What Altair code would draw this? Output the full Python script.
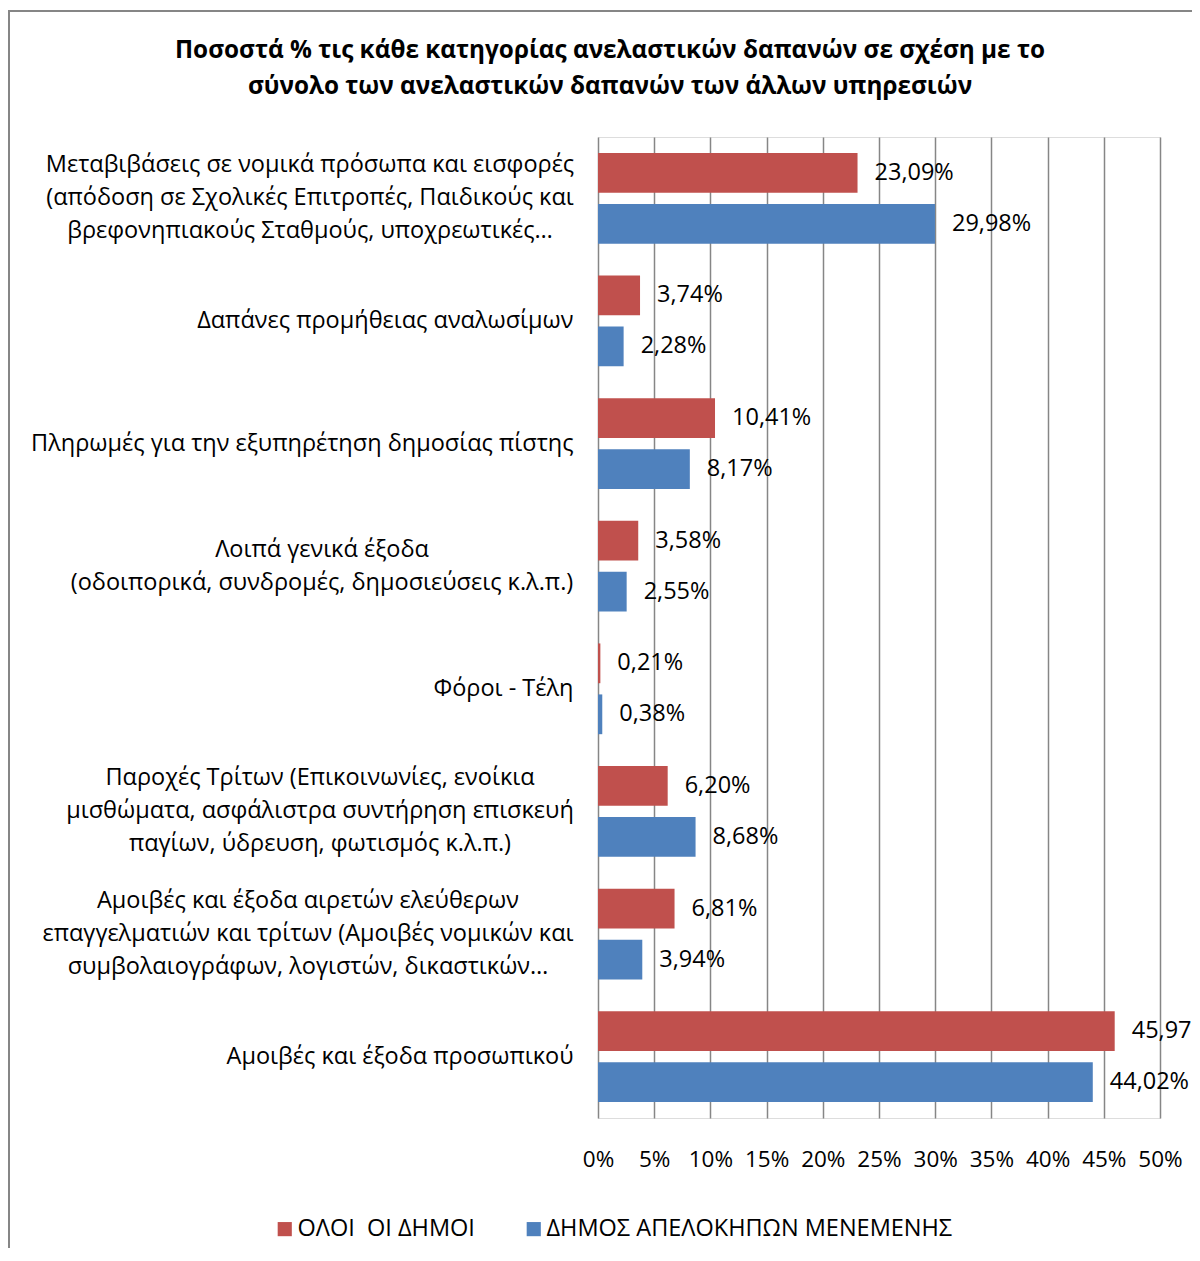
import altair as alt
import pandas as pd

categories = [
    "Μεταβιβάσεις σε νομικά πρόσωπα και εισφορές\n(απόδοση σε Σχολικές Επιτροπές, Παιδικούς και\nβρεφονηπιακούς Σταθμούς, υποχρεωτικές…",
    "Δαπάνες προμήθειας αναλωσίμων",
    "Πληρωμές για την εξυπηρέτηση δημοσίας πίστης",
    "Λοιπά γενικά έξοδα\n(οδοιπορικά, συνδρομές, δημοσιεύσεις κ.λ.π.)",
    "Φόροι - Τέλη",
    "Παροχές Τρίτων (Επικοινωνίες, ενοίκια\nμισθώματα, ασφάλιστρα συντήρηση επισκευή\nπαγίων, ύδρευση, φωτισμός κ.λ.π.)",
    "Αμοιβές και έξοδα αιρετών ελεύθερων\nεπαγγελματιών και τρίτων (Αμοιβές νομικών και\nσυμβολαιογράφων, λογιστών, δικαστικών…",
    "Αμοιβές και έξοδα προσωπικού",
]
series = ["ΟΛΟΙ \u00a0ΟΙ ΔΗΜΟΙ", "ΔΗΜΟΣ ΑΠΕΛΟΚΗΠΩΝ ΜΕΝΕΜΕΝΗΣ"]
all_munis = [23.09, 3.74, 10.41, 3.58, 0.21, 6.20, 6.81, 45.97]
menemeni = [29.98, 2.28, 8.17, 2.55, 0.38, 8.68, 3.94, 44.02]
x_ticks = [0, 5, 10, 15, 20, 25, 30, 35, 40, 45, 50]
colors = ["#C0504D", "#4F81BD"]

# layout only: rendered width (px) of each multi-line label block, so that its
# lines can be centred on one another while the block stays right-aligned
block_width = {0: 527, 3: 503, 5: 507, 6: 531}

rows = []
for c, a, m in zip(categories, all_munis, menemeni):
    rows.append({"cat": c, "series": series[0], "val": a})
    rows.append({"cat": c, "series": series[1], "val": m})
df = pd.DataFrame(rows)
df["lbl"] = df["val"].map(lambda v: f"{v:.2f}".replace(".", ",") + "%")

FONT = "Open Sans"
FS = 23.5
LH = 33
PAD = 25

pad_conditions = [
    {"test": f"indexof(datum.value, '{categories[i].split(chr(10))[0]}') == 0",
     "value": PAD + w / 2}
    for i, w in block_width.items()
]

y_enc = alt.Y(
    "cat:N",
    sort=categories,
    scale=alt.Scale(paddingInner=0.26, paddingOuter=0.13),
    axis=alt.Axis(
        title=None,
        labelExpr="split(datum.label, '\\n')",
        labelAlign={
            "condition": {"test": "indexof(datum.value, '\\n') >= 0", "value": "center"},
            "value": "right",
        },
        labelBaseline="middle",
        labelPadding={"condition": pad_conditions, "value": PAD},
        labelLimit=0,
        labelLineHeight=LH,
        labelOffset={
            "condition": [
                {"test": "length(split(datum.value, '\\n')) == 3", "value": -LH},
                {"test": "length(split(datum.value, '\\n')) == 2", "value": -LH / 2},
            ],
            "value": 0,
        },
        labelFontSize=FS,
        labelFont=FONT,
        labelColor="#000000",
        ticks=False,
        domain=False,
        grid=False,
    ),
)
yoff_enc = alt.YOffset("series:N", sort=series, scale=alt.Scale(paddingInner=0.22, paddingOuter=0))
x_enc = alt.X(
    "val:Q",
    scale=alt.Scale(domain=[0, 50], nice=False),
    axis=alt.Axis(
        title=None,
        values=x_ticks,
        labelExpr="datum.value + '%'",
        labelOverlap=False,
        labelFlush=False,
        labelPadding=30,
        labelFontSize=22.5,
        labelFont=FONT,
        labelColor="#000000",
        ticks=False,
        domain=False,
        grid=True,
        gridColor="#868686",
        gridWidth=1.5,
    ),
)

bars = alt.Chart(df).mark_bar().encode(
    y=y_enc,
    yOffset=yoff_enc,
    x=x_enc,
    color=alt.Color(
        "series:N",
        sort=series,
        scale=alt.Scale(domain=series, range=colors),
        legend=alt.Legend(
            title=None,
            orient="none",
            legendX=-325,
            legendY=1080,
            direction="horizontal",
            symbolType="square",
            symbolSize=200,
            symbolStrokeWidth=0,
            labelFontSize=FS,
            labelFont=FONT,
            labelColor="#000000",
            labelOffset=1,
            columnPadding=47,
            labelLimit=0,
        ),
    ),
)

labels = alt.Chart(df).mark_text(
    align="left", baseline="middle", dx=17, fontSize=FS, font=FONT, color="#000000"
).encode(
    y=alt.Y("cat:N", sort=categories),
    yOffset=alt.YOffset("series:N", sort=series),
    x=alt.X("val:Q"),
    text="lbl:N",
)

frame = alt.Chart(pd.DataFrame({"d": [0]})).mark_rect(
    filled=False, stroke="#868686", strokeWidth=2
).encode(
    x=alt.value(-589), x2=alt.value(700), y=alt.value(-126), y2=alt.value(1300)
)

chart = alt.layer(frame, bars, labels).properties(
    width=562,
    height=981,
    autosize=alt.AutoSizeParams(type="none"),
    padding={"left": 590, "top": 129, "right": 32, "bottom": 130},
    title=alt.Title(
        ["Ποσοστά % τις κάθε κατηγορίας ανελαστικών δαπανών σε σχέση με το",
         "σύνολο των ανελαστικών δαπανών των άλλων υπηρεσιών"],
        anchor="middle",
        dx=-269,
        dy=89,
        offset=0,
        fontSize=24.3,
        font=FONT,
        fontWeight="bold",
        lineHeight=36,
        color="#000000",
    ),
).configure_view(stroke=None).configure(background="white")

chart.save("out.html", embed_options={"renderer": "svg", "actions": False})
